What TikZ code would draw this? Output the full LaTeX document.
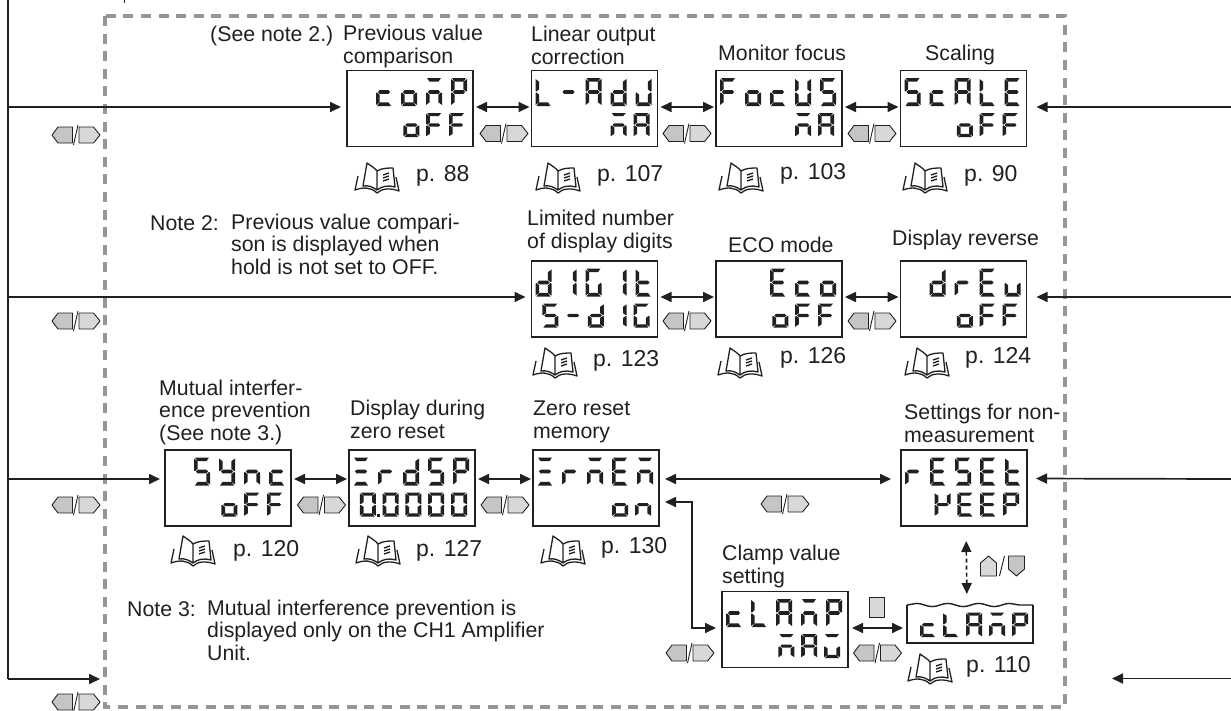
\documentclass[tikz,border=0pt]{standalone}
\usepackage{fontspec}
\setmainfont{Liberation Sans}
\usepackage{xcolor}
\usetikzlibrary{positioning,arrows.meta,calc,decorations.pathmorphing}
\definecolor{ink}{HTML}{231F20}
\definecolor{framegray}{HTML}{939598}
\definecolor{keydark}{HTML}{C4C5C7}
\definecolor{keylight}{HTML}{D7D8DA}

% the seven segments of one display cell, 16 wide and 28 high
\newcommand{\sega}{\fill (1,0) -- (15,0) -- (12.5,3.6) -- (3.5,3.6) -- cycle;}
\newcommand{\segd}{\fill (1,28) -- (15,28) -- (12.5,24.4) -- (3.5,24.4) -- cycle;}
\newcommand{\segg}{\fill (2,14) -- (3.5,12.2) -- (12.5,12.2) -- (14,14) -- (12.5,15.8) -- (3.5,15.8) -- cycle;}
\newcommand{\segf}{\fill (0,1) -- (3.7,3.8) -- (3.7,11.2) -- (1,13.5) -- (0,13) -- cycle;}
\newcommand{\sege}{\fill (0,27) -- (3.7,24.2) -- (3.7,16.8) -- (1,14.5) -- (0,15) -- cycle;}
\newcommand{\segb}{\fill (16,1) -- (12.3,3.8) -- (12.3,11.2) -- (15,13.5) -- (16,13) -- cycle;}
\newcommand{\segc}{\fill (16,27) -- (12.3,24.2) -- (12.3,16.8) -- (15,14.5) -- (16,15) -- cycle;}
\newcommand{\lcdglyph}[2]{\expandafter\def\csname lcdglyph#1\endcsname{#2}}
\lcdglyph{A}{\sega\segb\segc\sege\segf\segg}
\lcdglyph{c}{\segd\sege\segg}
\lcdglyph{d}{\segb\segc\segd\sege\segg}
\lcdglyph{E}{\sega\segd\sege\segf\segg}
\lcdglyph{F}{\sega\sege\segf\segg}
\lcdglyph{G}{\sega\segc\segd\sege\segf}
\lcdglyph{I}{\segb\segc}
\lcdglyph{J}{\segb\segc\segd\sege}
\lcdglyph{K}{\segb\sege\segf\segg}
\lcdglyph{L}{\segd\sege\segf}
\lcdglyph{m}{\sega\segc\sege\segg}
\lcdglyph{n}{\segc\sege\segg}
\lcdglyph{o}{\segc\segd\sege\segg}
\lcdglyph{P}{\sega\segb\sege\segf\segg}
\lcdglyph{r}{\sege\segg}
\lcdglyph{S}{\sega\segc\segd\segf\segg}
\lcdglyph{t}{\segd\sege\segf\segg}
\lcdglyph{U}{\segb\segc\segd\sege\segf}
\lcdglyph{u}{\segc\segd\sege}
\lcdglyph{v}{\sega\segc\segd\sege}
\lcdglyph{Y}{\segb\segc\segd\segf\segg}
\lcdglyph{Z}{\sega\segd\segg}
\lcdglyph{0}{\sega\segb\segc\segd\sege\segf}
\lcdglyph{0d}{\sega\segb\segc\segd\sege\segf\fill (17,25) rectangle (20,28);}
\lcdglyph{-}{\segg}
% right end, top, pitch, yscale, cells
\newcommand{\lcdline}[5]{%
  \foreach \ch [count=\n] in {#5} {\xdef\lcdcount{\n}}
  \foreach \ch [count=\n] in {#5} {
    \pgfmathsetmacro\cx{#1-16-(\lcdcount-\n)*#3}
    \begin{scope}[shift={(\cx,#2)},yscale=#4]\csname lcdglyph\ch\endcsname\end{scope}
  }}
\newcommand{\lcdshow}[3]{%
  \begin{scope}[shift={(#1.north east)},ink]
    \lcdline{-6}{7.5}{25}{1}{#2}
    \lcdline{-8}{42.5}{22.8}{0.86}{#3}
  \end{scope}}

\tikzset{
  lcdbox/.style={draw=ink,line width=1.8pt,minimum width=126pt,minimum height=76pt,inner sep=0pt,outer sep=0pt},
  lbl/.style={font=\fontsize{21.3}{22.2}\selectfont,text=ink,anchor=base west,inner sep=0pt,align=left},
  pagelbl/.style={font=\fontsize{23}{24}\selectfont,text=ink,anchor=base west,inner sep=0pt},
  flow/.style={draw=ink,line width=1.7pt},
  keyedge/.style={draw=ink,line width=0.9pt,line join=round},
  bookicon/.pic={
    \draw[ink,line width=1.3pt,line join=round]
      (3,13) -- (0,27) .. controls (8,24) and (16,24) .. (22,30) .. controls (27,25) and (36,25) .. (44,28) -- (41,14)
      (12,0) .. controls (16,3) and (20,5) .. (22,8) -- (22,27) .. controls (18,24) and (13,22) .. (8,23) -- cycle
      (22,8) .. controls (27,5) and (33,5) .. (38,5) -- (40,24) .. controls (33,22) and (27,23) .. (22,27)
      (28,12) -- (34,10) (28,15) -- (34,13) (28,18) -- (34,16);
  },
  keylr/.pic={
    \draw[keyedge,fill=keydark] (-24,0) -- (-18,-8) -- (-3.5,-8) -- (-3.5,8) -- (-18,8) -- cycle;
    \draw[keyedge,fill=keylight] (3,-8) -- (17.5,-8) -- (24,0) -- (17.5,8) -- (3,8) -- cycle;
    \draw[ink,line width=0.9pt] (-2.5,10) -- (2,-10);
  },
  keyud/.pic={
    \draw[keyedge,fill=keylight] (-8,-3) -- (0,-10) -- (8,-3) -- (8,10) -- (-8,10) -- cycle;
    \draw[keyedge,fill=keydark] (20,-10) -- (36,-10) -- (36,3) -- (28,10) -- (20,3) -- cycle;
    \draw[ink,line width=0.9pt] (11,10) -- (16,-10);
  },
}

\begin{document}
\begin{tikzpicture}[x=1pt,y=-1pt,>={Stealth[length=11pt,width=10pt,inset=0pt]}]
\useasboundingbox (0,0) rectangle (1231,710);
\draw[framegray,line width=4.6pt,dash pattern=on 10pt off 7.6pt] (105,16) rectangle (1065,707);
\draw[ink,line width=1.2pt] (124.5,0) -- (124.5,3);

% first row
\node[lcdbox] (comp) at (410,108.5) {};
\node[lcdbox,right=58.5pt of comp] (ladj) {};
\node[lcdbox,right=58.5pt of ladj] (focus) {};
\node[lcdbox,right=58.5pt of focus] (scale) {};
\lcdshow{comp}{c,o,m,P}{o,F,F}
\lcdshow{ladj}{L,-,A,d,J}{m,A}
\lcdshow{focus}{F,o,c,U,S}{m,A}
\lcdshow{scale}{S,c,A,L,E}{o,F,F}
% second row
\node[lcdbox] (digit) at (594.5,299) {};
\node[lcdbox,right=58.5pt of digit] (eco) {};
\node[lcdbox,right=58.5pt of eco] (drev) {};
\lcdshow{digit}{d,I,G,I,t}{S,-,d,I,G}
\lcdshow{eco}{E,c,o}{o,F,F}
\lcdshow{drev}{d,r,E,u}{o,F,F}
% third row
\node[lcdbox] (sync) at (228,488) {};
\node[lcdbox,right=58pt of sync] (zdisp) {};
\node[lcdbox,right=58pt of zdisp] (zmem) {};
\node[lcdbox,right=242pt of zmem] (reset) {};
\lcdshow{sync}{S,Y,n,c}{o,F,F}
\lcdshow{zdisp}{Z,r,d,S,P}{0d,0,0,0,0}
\lcdshow{zmem}{Z,r,m,E,m}{o,n}
\lcdshow{reset}{r,E,S,E,t}{K,E,E,P}
% clamp
\node[lcdbox] (clamp) at (785,629.5) {};
\lcdshow{clamp}{c,L,A,m,P}{m,A,v}
\node[minimum width=126pt,minimum height=38pt,inner sep=0pt,outer sep=0pt] (wavy) at (970,624) {};
\draw[ink,line width=1.4pt,decorate,decoration={snake,segment length=31pt,amplitude=1.6pt}] (wavy.north west) -- (wavy.north east);
\draw[ink,line width=1.4pt] (wavy.north west) -- (wavy.south west) -- (wavy.south east) -- (wavy.north east);
\begin{scope}[shift={(wavy.north east)},ink]
  \lcdline{-5}{7.5}{23}{0.88}{c,L,A,m,P}
\end{scope}

% rails on both sides
\coordinate (railtop) at (8,0);
\coordinate (railone) at (8,107);
\coordinate (railtwo) at (8,297);
\coordinate (railthree) at (8,479);
\coordinate (railend) at (8,679);
\coordinate (railtip) at (100,679);
\coordinate (sideone) at (1231,107);
\coordinate (sidetwo) at (1231,297);
\coordinate (sidethree) at (1231,479);
\coordinate (sideend) at (1231,678.5);
\coordinate (sidetip) at (1112,678.5);
\coordinate (elbow) at (692,565);
\draw[flow] (railtop) -- (railend);
\draw[flow,->] (railend) -- (railtip);
\draw[flow,->,shorten >=6pt] (railone) -- ([yshift=1.5pt]comp.west);
\draw[flow,->,shorten >=6pt] (railtwo) -- ([yshift=2pt]digit.west);
\draw[flow,->,shorten >=5pt] (railthree) -- ([yshift=9pt]sync.west);
\draw[flow,->,shorten >=10pt] (sideone) -- ([yshift=1.5pt]scale.east);
\draw[flow,->,shorten >=10pt] (sidetwo) -- ([yshift=2pt]drev.east);
\draw[flow,->,shorten >=9pt] (sidethree) -- ([yshift=9.5pt]reset.east);
\draw[flow,->] (sideend) -- (sidetip);

% arrows between displays
\draw[flow,<->,shorten <=3pt,shorten >=2pt] ([yshift=1.5pt]comp.east) -- ([yshift=1.5pt]ladj.west);
\draw[flow,<->,shorten <=3pt,shorten >=2pt] ([yshift=1.5pt]ladj.east) -- ([yshift=1.5pt]focus.west);
\draw[flow,<->,shorten <=3pt,shorten >=2pt] ([yshift=1.5pt]focus.east) -- ([yshift=1.5pt]scale.west);
\draw[flow,<->,shorten <=3pt,shorten >=2pt] ([yshift=2pt]digit.east) -- ([yshift=2pt]eco.west);
\draw[flow,<->,shorten <=3pt,shorten >=2pt] ([yshift=2pt]eco.east) -- ([yshift=2pt]drev.west);
\draw[flow,<->,shorten <=3pt,shorten >=2pt] ([yshift=9pt]sync.east) -- ([yshift=9pt]zdisp.west);
\draw[flow,<->,shorten <=3pt,shorten >=2pt] ([yshift=9pt]zdisp.east) -- ([yshift=9pt]zmem.west);
\draw[flow,<->,shorten <=6pt,shorten >=10pt] ([yshift=9pt]zmem.east) -- ([yshift=9pt]reset.west);
\draw[flow,<->,shorten <=6pt] ([yshift=-14pt]zmem.east) -| (elbow) |- ($(clamp.west)+(-6,-1.5)$);
\draw[flow,<->,shorten <=4pt,shorten >=4pt] ([yshift=1.5pt]clamp.east) -- ([yshift=-4pt]wavy.west);
\draw[flow,<->,dash pattern=on 4pt off 3pt,shorten <=15pt,shorten >=11pt] ([xshift=2pt]reset.south) -- ([xshift=-3pt]wavy.north);

% keys
\foreach \kx/\ky in {76/135,504/133.5,687/133.5,872/133.5,76/321,687/321,872/321,76/505,321.5/505,505/505,785/504,690/653,877.5/653,76/702}
  \pic at (\kx,\ky) {keylr};
\pic at (988.5,566) {keyud};
\draw[keyedge,fill=keylight] (869,597) rectangle (884,617);

% page marks
\foreach \bx/\by in {355/163,536/163,719/163,903/163,533/348,718/348,905/348,171/536,356/536,541/536,908/654}
  \pic at (\bx,\by) {bookicon};
\node[pagelbl] (pcomp) at (416,181) {p. 88};
\node[pagelbl] (pladj) at (597,181) {p. 107};
\node[pagelbl] (pfocus) at (780,179) {p. 103};
\node[pagelbl] (pscale) at (964,181) {p. 90};
\node[pagelbl] (pdigit) at (593,366) {p. 123};
\node[pagelbl] (peco) at (780,363) {p. 126};
\node[pagelbl] (pdrev) at (965,363) {p. 124};
\node[pagelbl] (psync) at (233,556) {p. 120};
\node[pagelbl] (pzdisp) at (416,556) {p. 127};
\node[pagelbl] (pzmem) at (601,553) {p. 130};
\node[pagelbl] (pclamp) at (966,672) {p. 110};

% captions
\node[lbl] (seetwo) at (210,41) {(See note 2.)};
\node[lbl] (lcomp) at (343,63) {Previous value\\comparison};
\node[lbl] (lladj) at (531,64) {Linear output\\correction};
\node[lbl] (lfocus) at (718,60) {Monitor focus};
\node[lbl] (lscale) at (925,60) {Scaling};
\node[lbl] (ldigit) at (527,248) {Limited number\\of display digits};
\node[lbl] (leco) at (728,252) {ECO mode};
\node[lbl] (ldrev) at (892,245) {Display reverse};
\node[lbl] (lsync) at (159,440) {Mutual interfer-\\ence prevention\\(See note 3.)};
\node[lbl] (lzdisp) at (350,438) {Display during\\zero reset};
\node[lbl] (lzmem) at (533,438) {Zero reset\\memory};
\node[lbl] (lreset) at (904,442) {Settings for non-\\measurement};
\node[lbl] (lclamp) at (722,583) {Clamp value\\setting};
\node[lbl] (ntwo) at (150,230) {Note 2:};
\node[lbl] (ntwotext) at (231,274) {Previous value compari-\\son is displayed when\\hold is not set to OFF.};
\node[lbl] (nthree) at (127,616) {Note 3:};
\node[lbl] (nthreetext) at (207,660) {Mutual interference prevention is\\displayed only on the CH1 Amplifier\\Unit.};
\end{tikzpicture}
\end{document}
